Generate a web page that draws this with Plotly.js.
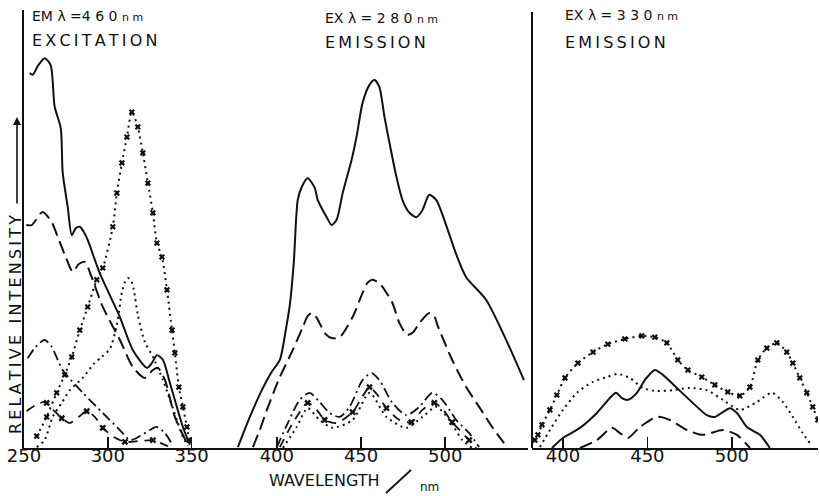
<!DOCTYPE html>
<html>
<head>
<meta charset="utf-8">
<script src="https://cdn.plot.ly/plotly-3.0.1.min.js"></script>
<style>html,body{margin:0;padding:0;background:#fff}#chart{width:820px;height:496px}</style>
</head>
<body>
<div id="chart"></div>
<script>
// ---- Panel 1: excitation (EM 460 nm) ----
const ex_solid_x = [253.4,255.2,258.2,262.3,265.9,268.3,271.9,273.1,276.1,278.5,280.9,283.3,285.7,288.0,295.2,307.2,314.9,323.3,326.3,329.3,332.9,337.1,344.8,349.0];
const ex_solid_y = [85.6,85.2,87.2,89.0,87.4,77.9,73.1,62.8,55.0,48.6,50.2,50.5,49.3,47.5,39.9,29.9,22.4,18.3,19.4,21.2,20.1,14.8,4.8,0.7];
const ex_ldash_x = [251.4,254.6,261.1,266.5,270.1,274.9,279.1,282.7,286.3,290.4,297.0,307.2,314.9,322.1,326.9,329.9,334.1,340.0,347.2];
const ex_ldash_y = [50.9,50.9,53.9,51.6,48.2,43.6,40.2,42.0,42.5,39.0,32.2,24.7,18.5,16.0,17.8,18.3,15.5,7.1,1.1];
const ex_dashdot_x = [252.2,257.0,262.3,266.5,273.1,285.1,297.0,307.2,313.2,317.3,325.1,329.3,334.1,338.9];
const ex_dashdot_y = [20.5,23.1,24.7,23.1,17.8,12.6,8.0,4.1,1.8,2.3,4.1,4.8,3.4,0.5];
const ex_dashx_x = [251.6,257.0,262.3,266.5,272.5,277.3,283.3,287.4,292.2,297.0,303.6,310.2,319.1,326.9,332.9,337.1];
const ex_dashx_y = [8.4,9.8,10.5,9.1,6.8,5.7,7.3,8.4,7.1,4.6,2.5,1.4,1.6,1.8,0.9,0.2];
const ex_dashx_mx = [263.5,272.5,287.4,297.0,310.2,326.9];
const ex_dashx_my = [10.3,6.8,8.4,4.6,1.4,1.8];
const ex_dotx_x = [257.6,263.5,269.5,274.3,278.5,283.3,288.0,293.4,297.0,303.0,305.4,308.4,311.4,314.3,317.9,320.9,323.9,326.9,329.3,332.3,335.3,338.3,340.0,342.4,344.8,347.2,348.4];
const ex_dotx_y = [2.7,7.1,12.6,16.7,20.8,26.9,32.2,38.4,41.1,50.5,58.2,65.1,71.0,76.7,73.3,67.4,60.5,53.7,46.8,43.6,36.1,26.9,21.7,13.9,9.4,4.8,1.8];
const ex_dot_x = [257.6,262.3,267.1,272.5,277.3,285.1,291.6,296.4,301.2,305.4,308.4,310.2,312.0,313.7,315.5,317.9,322.1,326.9,332.9,337.1,341.2,344.8,347.8];
const ex_dot_y = [0.2,1.8,7.1,10.3,13.2,16.0,19.2,20.8,22.6,28.1,35.6,37.9,38.8,38.4,36.1,30.4,24.2,20.8,15.5,11.0,6.4,2.5,0.5];

// ---- Panel 2: emission (EX 280 nm) ----
const em280_solid_x = [376.9,384.0,391.1,397.0,401.8,405.3,407.7,410.1,412.4,414.8,418.3,422.5,424.3,429.6,432.5,435.5,439.1,444.4,447.3,450.9,455.0,458.0,460.9,463.9,466.9,471.0,474.6,478.7,482.8,486.4,490.5,494.7,499.4,507.1,512.4,524.3,536.1,546.7];
const em280_solid_y = [0.2,7.1,13.2,17.4,20.1,26.9,32.6,42.5,56.6,59.6,61.6,59.4,56.6,52.7,50.9,52.1,58.2,65.8,71.0,78.8,82.9,84.0,82.4,75.6,69.6,61.9,56.6,53.7,52.7,54.3,57.8,56.6,52.1,43.6,39.0,33.8,24.7,15.5];
const em280_ldash_x = [385.8,389.9,394.1,398.2,401.8,409.5,415.4,418.3,420.7,423.7,425.4,429.0,432.5,437.3,445.0,450.9,453.8,456.8,459.8,462.7,468.6,472.8,477.5,481.1,484.6,490.5,493.5,495.3,504.1,512.4,520.1,527.8,534.9];
const em280_ldash_y = [0.2,4.1,8.7,12.8,16.2,22.4,27.6,30.1,30.8,29.7,28.5,26.0,25.1,25.3,29.9,35.4,37.7,38.4,37.9,36.8,33.1,28.5,25.8,26.5,28.5,30.8,30.1,28.1,20.1,13.9,9.4,4.8,1.1];
const em280_dashdot_x = [400.0,406.5,413.6,419.5,425.4,431.4,437.3,443.2,450.9,456.2,460.9,468.6,476.9,484.6,492.3,498.2,506.5,514.2,520.1];
const em280_dashdot_y = [0.2,5.7,11.0,12.6,10.5,8.0,7.1,9.4,15.5,17.1,15.5,10.3,7.5,9.4,12.6,11.0,6.4,3.4,0.2];
const em280_dashx_x = [401.8,409.5,418.3,423.7,428.4,435.5,445.0,450.3,455.0,459.8,465.1,472.8,479.9,486.4,493.5,498.8,504.1,514.2,518.3];
const em280_dashx_y = [0.2,5.7,10.3,8.7,6.4,5.7,8.2,11.4,13.9,12.1,9.1,6.4,5.9,8.7,10.3,8.7,5.9,1.8,0];
const em280_dashx_mx = [418.3,428.4,445.0,455.0,465.1,479.9,493.5,504.1,514.2];
const em280_dashx_my = [10.3,6.4,8.2,13.9,9.1,5.9,10.3,5.9,1.8];
const em280_dot_x = [403.6,411.8,418.3,425.4,433.1,445.0,455.0,465.1,476.9,486.4,494.7,502.4,510.1,516.0];
const em280_dot_y = [0,4.8,9.1,6.4,4.6,6.4,12.6,7.1,4.6,7.1,9.4,6.4,1.8,0];

// ---- Panel 3: emission (EX 330 nm) ----
const em330_dotx_x = [383.4,385.2,387.6,392.3,396.4,401.2,408.9,417.8,426.6,436.7,446.7,454.4,461.5,468.0,474.0,482.2,489.9,497.6,504.7,510.7,515.4,520.7,526.6,532.5,536.1,540.2,544.4,547.9,550.9];
const em330_dotx_y = [1.8,3.0,5.3,8.7,12.1,16.0,19.4,21.9,23.7,24.9,25.6,25.3,24.0,20.1,17.8,16.2,14.4,12.8,11.9,13.9,20.1,22.8,24.0,21.9,19.4,16.0,12.6,9.4,6.4];
const em330_dot_x = [386.4,392.3,400.0,408.3,417.8,426.0,432.5,439.6,447.3,455.6,465.1,475.1,485.2,494.7,504.7,514.8,523.7,530.2,536.1,542.0,546.2];
const em330_dot_y = [0.2,4.1,8.7,12.6,15.1,16.2,16.9,16.0,13.7,13.0,13.2,13.7,13.2,11.0,8.7,10.5,12.6,10.5,7.1,3.4,1.1];
const em330_solid_x = [393.5,400.0,410.1,420.1,427.8,431.4,434.9,438.5,443.8,448.5,454.4,459.2,467.5,476.9,485.2,489.9,494.7,498.8,503.0,508.9,516.6,522.5];
const em330_solid_y = [0,2.3,4.6,8.0,11.4,12.6,11.4,11.0,12.6,15.5,17.8,16.7,13.7,10.3,7.5,7.1,8.2,9.1,8.0,4.8,3.0,0];
const em330_ldash_x = [410.1,420.1,429.0,433.7,438.5,445.6,455.6,463.3,473.4,482.8,494.7,503.0,510.7];
const em330_ldash_y = [0,1.8,4.6,3.4,2.3,4.8,7.1,6.4,4.1,3.0,4.1,3.0,0];

// ---- tick labels ----
const ticks1 = [250,300,350];
const ticks2 = [400,450,500];
const ticks3 = [400,450,500];

const INK = '#111';
const FONT = 'DejaVu Sans, sans-serif';
const STY = {
  solid: {color: INK, width: 2, dash: 'solid'},
  ldash: {color: INK, width: 2, dash: '13px,6px'},
  dashdot: {color: INK, width: 1.8, dash: '10px,4px,2px,4px'},
  dashx: {color: INK, width: 1.8, dash: '9px,7px'},
  dot: {color: INK, width: 2, dash: '2px,4px'}
};
function ln(x, y, ax, st, extra) {
  return Object.assign({x: x, y: y, xaxis: ax, yaxis: 'y', type: 'scatter', mode: 'lines',
    line: Object.assign({shape: 'spline', smoothing: 0.7}, STY[st]), hoverinfo: 'skip', showlegend: false}, extra || {});
}
function mk(x, y, ax) {
  return {x: x, y: y, xaxis: ax, yaxis: 'y', type: 'scatter', mode: 'markers',
    marker: {symbol: 'x', size: 6, color: INK}, hoverinfo: 'skip', showlegend: false};
}
const dotxExtra = {mode: 'lines+markers', marker: {symbol: 'x', size: 5.5, color: INK}};

const data = [
  ln(ex_solid_x, ex_solid_y, 'x', 'solid'),
  ln(ex_ldash_x, ex_ldash_y, 'x', 'ldash'),
  ln(ex_dashdot_x, ex_dashdot_y, 'x', 'dashdot'),
  ln(ex_dashx_x, ex_dashx_y, 'x', 'dashx'),
  mk(ex_dashx_mx, ex_dashx_my, 'x'),
  ln(ex_dotx_x, ex_dotx_y, 'x', 'dot', dotxExtra),
  ln(ex_dot_x, ex_dot_y, 'x', 'dot'),

  ln(em280_solid_x, em280_solid_y, 'x2', 'solid'),
  ln(em280_ldash_x, em280_ldash_y, 'x2', 'ldash'),
  ln(em280_dashdot_x, em280_dashdot_y, 'x2', 'dashdot'),
  ln(em280_dashx_x, em280_dashx_y, 'x2', 'dashx'),
  mk(em280_dashx_mx, em280_dashx_my, 'x2'),
  ln(em280_dot_x, em280_dot_y, 'x2', 'dot'),

  ln(em330_dotx_x, em330_dotx_y, 'x3', 'dot', dotxExtra),
  ln(em330_dot_x, em330_dot_y, 'x3', 'dot'),
  ln(em330_solid_x, em330_solid_y, 'x3', 'solid'),
  ln(em330_ldash_x, em330_ldash_y, 'x3', 'ldash')
];

const W = 820, H = 496, L = 24, R = 2, T = 10, B = 48;
const pw = W - L - R, ph = H - T - B;
const px = v => (v - L) / pw;
const py = v => (H - B - v) / ph;

function xa(domain, range, tv) {
  return {domain: domain, range: range, anchor: 'y', tickvals: tv, ticktext: tv.map(String),
    ticks: 'inside', ticklen: 11, tickwidth: 1.6, tickcolor: INK, ticklabelstandoff: -10,
    showline: true, linecolor: INK, linewidth: 2, showgrid: false, zeroline: false,
    tickfont: {family: FONT, size: 18, color: INK}, fixedrange: true};
}

const small = s => "<span style='font-size:11px'>" + s + "</span>";
const annFont = {family: FONT, size: 14, color: INK};
const bigFont = {family: FONT, size: 16, color: INK};
const TS = '\u2009';
const spread = s => s.split('').join(TS);
const annotations = [
  {text: 'EM λ =4 6 0 ' + small('n m'), x: px(30), y: py(16), xref: 'paper', yref: 'paper', xanchor: 'left', yanchor: 'middle', showarrow: false, font: annFont},
  {text: spread('EXCITATION'), x: px(30), y: py(40), xref: 'paper', yref: 'paper', xanchor: 'left', yanchor: 'middle', showarrow: false, font: bigFont},
  {text: 'EX λ = 2 8 0 ' + small('n m'), x: px(323), y: py(18), xref: 'paper', yref: 'paper', xanchor: 'left', yanchor: 'middle', showarrow: false, font: annFont},
  {text: spread('EMISSION'), x: px(323), y: py(42), xref: 'paper', yref: 'paper', xanchor: 'left', yanchor: 'middle', showarrow: false, font: bigFont},
  {text: 'EX λ = 3 3 0 ' + small('n m'), x: px(563), y: py(15), xref: 'paper', yref: 'paper', xanchor: 'left', yanchor: 'middle', showarrow: false, font: annFont},
  {text: spread('EMISSION'), x: px(563), y: py(43), xref: 'paper', yref: 'paper', xanchor: 'left', yanchor: 'middle', showarrow: false, font: bigFont},
  {text: spread('RELATIVE') + TS + ' ' + TS + spread('INTENSITY'), textangle: -90,
   x: px(15), y: py(325), xref: 'paper', yref: 'paper', xanchor: 'center', yanchor: 'middle', showarrow: false,
   font: {family: FONT, size: 16, color: INK}},
  {text: 'WAVELENGTH', x: px(382), y: py(480), xref: 'paper', yref: 'paper', xanchor: 'right', yanchor: 'middle', showarrow: false,
   font: {family: FONT, size: 16, color: INK}},
  {text: 'nm', x: px(418), y: py(487), xref: 'paper', yref: 'paper', xanchor: 'left', yanchor: 'middle', showarrow: false,
   font: {family: FONT, size: 12, color: INK}},
  {text: '', x: px(17), y: py(117), xref: 'paper', yref: 'paper', showarrow: true, ax: 0, ay: 88,
   arrowhead: 2, arrowsize: 1, arrowwidth: 1.6, arrowcolor: INK}
];

const shapes = [
  {type: 'line', xref: 'x3 domain', yref: 'paper', x0: 0, x1: 0, y0: 0, y1: py(12), line: {color: INK, width: 2}},
  {type: 'line', xref: 'paper', yref: 'paper', x0: px(386), x1: px(411), y0: py(493), y1: py(470), line: {color: INK, width: 1.8}}
];

const layout = {
  width: W, height: H,
  margin: {l: L, r: R, t: T, b: B, pad: 0},
  paper_bgcolor: '#fff', plot_bgcolor: '#fff',
  showlegend: false,
  xaxis: xa([0, px(200)], [250, 355.0], ticks1),
  xaxis2: xa([px(200), px(528)], [354.4, 549.1], ticks2),
  xaxis3: xa([px(532), 1], [381.7, 551.0], ticks3),
  yaxis: {domain: [0, 1], range: [0, 100], showline: true, linecolor: INK, linewidth: 2, ticks: '',
    showticklabels: false, showgrid: false, zeroline: false, fixedrange: true},
  annotations: annotations,
  shapes: shapes
};

Plotly.newPlot('chart', data, layout, {displayModeBar: false, staticPlot: true});
</script>
</body>
</html>
